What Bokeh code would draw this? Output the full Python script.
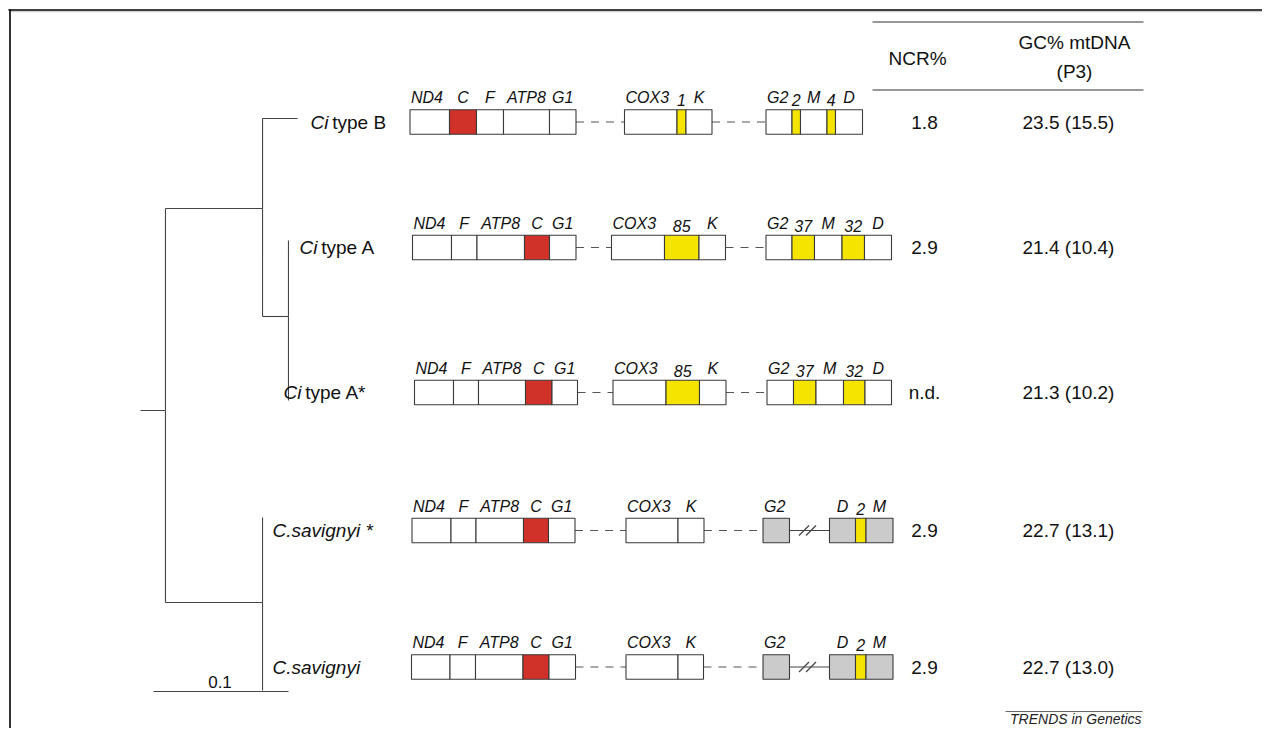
from bokeh.plotting import figure
from bokeh.models import Range1d
from bokeh.core.properties import value
from bokeh.embed import file_html
from bokeh.resources import INLINE

FONT = "Liberation Sans"

# ---------------- data ----------------
species = ["Ci type B", "Ci type A", "Ci type A*", "C.savignyi *", "C.savignyi"]
ncr_pct = ["1.8", "2.9", "n.d.", "2.9", "2.9"]
gc_pct = ["23.5 (15.5)", "21.4 (10.4)", "21.3 (10.2)", "22.7 (13.1)", "22.7 (13.0)"]

# gene maps: name, relative length (px), kind
# kinds: w=white gene, r=red (C), y=yellow NCR, g=grey gene, dash=dashed gap, brk=broken gap
genes_ci_b = ["ND4", "C", "F", "ATP8", "G1", "", "COX3", "1", "K", "", "G2", "2", "M", "4", "D"]
len_ci_b = [39.5, 27, 27, 46, 26.5, 48.5, 52.5, 9, 26, 54, 26, 8.5, 26.5, 8.5, 27]
kind_ci_b = ["w", "r", "w", "w", "w", "dash", "w", "y", "w", "dash", "w", "y", "w", "y", "w"]

genes_ci_a = ["ND4", "F", "ATP8", "C", "G1", "", "COX3", "85", "K", "", "G2", "37", "M", "32", "D"]
len_ci_a = [39, 25.5, 47.5, 25, 26.5, 35.5, 53, 34.5, 26.5, 40.5, 26, 22.5, 27.5, 22.5, 27]
kind_ci_a = ["w", "w", "w", "r", "w", "dash", "w", "y", "w", "dash", "w", "y", "w", "y", "w"]

genes_ci_a2 = ["ND4", "F", "ATP8", "C", "G1", "", "COX3", "85", "K", "", "G2", "37", "M", "32", "D"]
len_ci_a2 = [39, 25, 47, 26.5, 25.5, 35.5, 53, 33.5, 26.5, 41, 26.5, 22.5, 27.5, 21.5, 26.5]
kind_ci_a2 = ["w", "w", "w", "r", "w", "dash", "w", "y", "w", "dash", "w", "y", "w", "y", "w"]

genes_cs2 = ["ND4", "F", "ATP8", "C", "G1", "", "COX3", "K", "", "G2", "", "D", "2", "M"]
len_cs2 = [39, 25, 47.5, 25, 26.5, 51, 52, 26, 59, 26.5, 40, 26, 10.5, 27]
kind_cs2 = ["w", "w", "w", "r", "w", "dash", "w", "w", "dash", "g", "brk", "g", "y", "g"]

genes_cs = ["ND4", "F", "ATP8", "C", "G1", "", "COX3", "K", "", "G2", "", "D", "2", "M"]
len_cs = [38.5, 25.5, 47.5, 26, 26.5, 50.5, 52, 25.5, 59.5, 26.5, 40, 26, 10.5, 27]
kind_cs = ["w", "w", "w", "r", "w", "dash", "w", "w", "dash", "g", "brk", "g", "y", "g"]

rows = [
    (genes_ci_b, len_ci_b, kind_ci_b),
    (genes_ci_a, len_ci_a, kind_ci_a),
    (genes_ci_a2, len_ci_a2, kind_ci_a2),
    (genes_cs2, len_cs2, kind_cs2),
    (genes_cs, len_cs, kind_cs),
]

# tree: node, parent, depth (substitutions/site), vertical position
tree_nodes = ["root", "n1", "ci", "ciA", "cs", "B", "A", "A*", "Cs*", "Cs"]
tree_parent = [None, "root", "n1", "ci", "n1", "ci", "ciA", "ciA", "cs", "cs"]
tree_depth = [0.0, 0.0185, 0.0904, 0.1096, 0.0904, 0.1163, 0.1096, 0.1096, 0.0904, 0.0904]
tree_y = [410, 410, 208, 316, 602, 118, 240, 400, 517, 690]
scale_bar = 0.1

# ---------------- layout (screen pixels) ----------------
row_y = [121.5, 247, 392, 530, 666.5]
row_x0 = [409.5, 412, 414, 411.5, 411]
box_h = 24.5
label_x = [310, 299, 283, 272, 272]
tree_x0 = 140
px_per_unit = 1350
ncr_x = 924
gc_x = 1068

COLORS = {"w": "white", "r": "#d03129", "y": "#f5e400", "g": "#cbcbcb"}
EDGE = "#3a3a3a"
TXT = "#111111"

p = figure(width=1262, height=728, output_backend="svg", toolbar_location=None,
           x_range=Range1d(0, 1262), y_range=Range1d(728, 0),
           x_axis_location=None, y_axis_location=None, min_border=0)
p.outline_line_color = None
p.xgrid.visible = False
p.ygrid.visible = False
p.background_fill_color = "white"
p.border_fill_color = "white"

# frame
p.segment(x0=[8], y0=[9.5], x1=[1262], y1=[9.5], line_color="black", line_width=1.6)
p.segment(x0=[10], y0=[11.2], x1=[1262], y1=[11.2], line_color="#c4c4c4", line_width=1)
p.segment(x0=[9.5], y0=[8.7], x1=[9.5], y1=[728], line_color="black", line_width=1.6)

# gene maps
bl, br, bt, bb, bc = [], [], [], [], []
lab_c_x, lab_c_y, lab_c_t = [], [], []
lab_l_x, lab_l_y, lab_l_t = [], [], []
dash_x0, dash_x1, dash_y = [], [], []
brk_x0, brk_x1, brk_y = [], [], []
for (names, lens, kinds), y, x0 in zip(rows, row_y, row_x0):
    x = x0
    prev = "dash"
    for n, L, k in zip(names, lens, kinds):
        if k == "dash":
            dash_x0.append(x); dash_x1.append(x + L); dash_y.append(y)
        elif k == "brk":
            brk_x0.append(x); brk_x1.append(x + L); brk_y.append(y)
        else:
            bl.append(x); br.append(x + L)
            bt.append(y - box_h / 2); bb.append(y + box_h / 2)
            bc.append(COLORS[k])
            ty = y - box_h / 2 - 3.5
            if prev == "dash":
                lab_l_x.append(x + 1); lab_l_y.append(ty); lab_l_t.append(n)
            else:
                lab_c_x.append(x + L / 2); lab_c_y.append(ty); lab_c_t.append(n)
        prev = k
        x += L

p.segment(x0=dash_x0, y0=dash_y, x1=dash_x1, y1=dash_y, line_color="#555555",
          line_width=1.2, line_dash="8 7")
p.segment(x0=brk_x0, y0=brk_y, x1=brk_x1, y1=brk_y, line_color="#444444", line_width=1.2)
# break marks "//"
sx0, sy0, sx1, sy1 = [], [], [], []
for a, b, y in zip(brk_x0, brk_x1, brk_y):
    m = (a + b) / 2 - 2
    for off in (-3.5, 3.5):
        sx0.append(m + off - 5); sy0.append(y + 5)
        sx1.append(m + off + 5); sy1.append(y - 5)
p.segment(x0=sx0, y0=sy0, x1=sx1, y1=sy1, line_color="#444444", line_width=1.2)

p.quad(left=bl, right=br, top=bt, bottom=bb, fill_color=bc, line_color=EDGE, line_width=1.1)

gfs = "16px"
p.text(x=lab_c_x, y=lab_c_y, text=lab_c_t, text_align="center", text_baseline="bottom",
       text_font=value(FONT), text_font_style="italic", text_font_size=gfs, text_color=TXT)
p.text(x=lab_l_x, y=lab_l_y, text=lab_l_t, text_align="left", text_baseline="bottom",
       text_font=value(FONT), text_font_style="italic", text_font_size=gfs, text_color=TXT)

# tree
idx = {n: i for i, n in enumerate(tree_nodes)}
hx0, hx1, hy, vx, vy0, vy1 = [], [], [], [], [], []
for n, par, d, y in zip(tree_nodes, tree_parent, tree_depth, tree_y):
    if par is None:
        continue
    j = idx[par]
    px_ = tree_x0 + tree_depth[j] * px_per_unit
    cx = tree_x0 + d * px_per_unit
    hx0.append(px_); hx1.append(cx); hy.append(y)
    vx.append(px_); vy0.append(y); vy1.append(tree_y[j])
p.segment(x0=hx0, y0=hy, x1=hx1, y1=hy, line_color="#444444", line_width=1.1)
p.segment(x0=vx, y0=vy0, x1=vx, y1=vy1, line_color="#444444", line_width=1.1)

# scale bar
sb_x0 = 153
p.segment(x0=[sb_x0], y0=[691], x1=[sb_x0 + scale_bar * px_per_unit], y1=[691],
          line_color="#444444", line_width=1.1)
p.text(x=[sb_x0 + scale_bar * px_per_unit / 2 - 1], y=[687], text=[str(scale_bar)],
       text_align="center", text_baseline="bottom", text_font=value(FONT),
       text_font_size="17px", text_color=TXT)

# species labels
sp_fs = 19
for name, x, y in zip(species, label_x, row_y):
    if name.startswith("Ci "):
        p.text(x=[x], y=[y], text=["Ci"], text_align="left", text_baseline="middle",
               text_font=value(FONT), text_font_style="italic", text_font_size=f"{sp_fs}px",
               text_color=TXT)
        p.text(x=[x + 0.944 * sp_fs + 0.2 * sp_fs], y=[y], text=[name[3:]], text_align="left",
               text_baseline="middle", text_font=value(FONT), text_font_size=f"{sp_fs}px",
               text_color=TXT)
    else:
        p.text(x=[x], y=[y], text=[name], text_align="left", text_baseline="middle",
               text_font=value(FONT), text_font_style="italic", text_font_size=f"{sp_fs}px",
               text_color=TXT)

# table
p.segment(x0=[872, 872], y0=[21.5, 89.5], x1=[1143, 1143], y1=[21.5, 89.5],
          line_color="#333333", line_width=1.2)
tfs = "19px"
p.text(x=[917], y=[58], text=["NCR%"], text_align="center", text_baseline="middle",
       text_font=value(FONT), text_font_size=tfs, text_color=TXT)
p.text(x=[1074, 1074], y=[42, 71], text=["GC% mtDNA", "(P3)"], text_align="center",
       text_baseline="middle", text_font=value(FONT), text_font_size=tfs, text_color=TXT)
p.text(x=[ncr_x] * 5, y=row_y, text=ncr_pct, text_align="center", text_baseline="middle",
       text_font=value(FONT), text_font_size=tfs, text_color=TXT)
p.text(x=[gc_x] * 5, y=row_y, text=gc_pct, text_align="center", text_baseline="middle",
       text_font=value(FONT), text_font_size=tfs, text_color=TXT)

# footer
p.segment(x0=[1005], y0=[711], x1=[1142], y1=[711], line_color="#666666", line_width=1)
p.text(x=[1141], y=[726], text=["TRENDS in Genetics"], text_align="right", text_baseline="bottom",
       text_font=value(FONT), text_font_style="italic", text_font_size="14px", text_color="#222222")

open("out.html", "w").write(file_html(p, INLINE))
